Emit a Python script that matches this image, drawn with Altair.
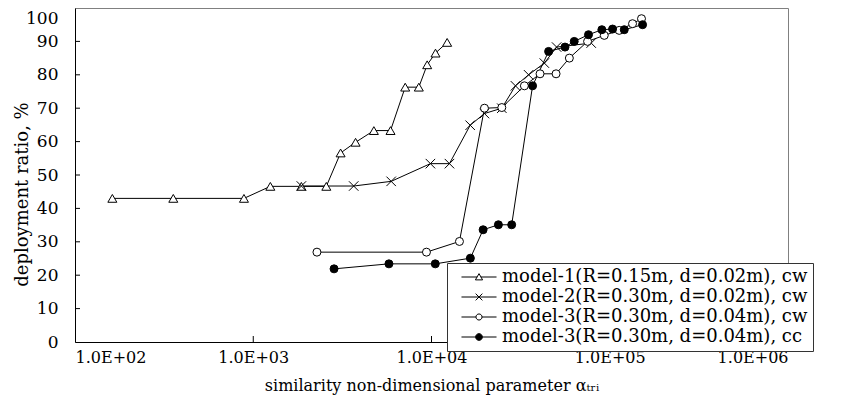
import altair as alt
import pandas as pd

series_names = [
    "model-1(R=0.15m, d=0.02m), cw",
    "model-2(R=0.30m, d=0.02m), cw",
    "model-3(R=0.30m, d=0.04m), cw",
    "model-3(R=0.30m, d=0.04m), cc",
]

m1_x = [162, 356, 887, 1247, 1862, 2570, 3090, 3750, 4750, 5890, 7120, 8490, 9460, 10530, 12240]
m1_y = [43.0, 43.0, 43.0, 46.6, 46.6, 46.6, 56.6, 59.8, 63.3, 63.3, 76.3, 76.3, 83.0, 86.5, 89.7]

m2_x = [1862, 3660, 5940, 9860, 12610, 16480, 19820, 24800, 29580, 35060, 42960, 50340, 78700]
m2_y = [46.7, 46.7, 48.1, 53.4, 53.4, 64.9, 68.4, 70.0, 76.7, 80.0, 83.5, 88.3, 89.5]

m3_x = [2277, 9370, 14350, 19820, 24800, 33200, 40640, 49990, 59340, 75100, 93150, 113000, 134200, 150700]
m3_y = [26.9, 26.9, 30.1, 70.0, 70.2, 76.7, 80.3, 80.3, 85.0, 90.0, 91.8, 93.3, 95.3, 96.8]

m4_x = [2840, 5770, 10500, 16520, 19480, 23730, 28170, 36900, 45400, 56100, 63200, 76000, 90300, 103700, 120600, 152800]
m4_y = [21.9, 23.4, 23.4, 25.1, 33.6, 35.1, 35.1, 76.7, 87.0, 88.3, 90.0, 92.0, 93.5, 93.7, 93.5, 95.0]

x_ticks = [100, 1000, 10000, 100000, 1000000]
y_ticks = [0, 10, 20, 30, 40, 50, 60, 70, 80, 90, 100]

FONT = "DejaVu Serif"
W, H = 713, 334

frames = []
for name, xs, ys in [(series_names[0], m1_x, m1_y), (series_names[1], m2_x, m2_y),
                     (series_names[2], m3_x, m3_y), (series_names[3], m4_x, m4_y)]:
    frames.append(pd.DataFrame({"series": name, "x": xs, "y": ys, "order": range(len(xs))}))
df = pd.concat(frames, ignore_index=True)

xscale = alt.Scale(type="log", domain=[100, 1000000], nice=False)
yscale = alt.Scale(domain=[0, 100], nice=False)

xaxis = alt.Axis(
    values=x_ticks, tickCount=5, ticks=False, grid=False, labelPadding=7, labelOverlap=False,
    labelFontSize=16,
    labelExpr="'1.0E+0' + format(log(datum.value)/LN10, '.0f')",
    title="similarity non-dimensional parameter αₜᵣᵢ", titlePadding=12,
    titleFontSize=16)
yaxis = alt.Axis(
    values=y_ticks, tickCount=11, ticks=False, grid=False, labelPadding=17, labelOverlap=False,
    labelFontSize=17,
    labelOffset={"condition": {"test": "datum.value == 100", "value": 10}, "value": 0},
    title="deployment ratio, %", titleAngle=270, titleX=-53, titleY=186,
    titleAlign="center", titleBaseline="middle", titleFontSize=18)


def xq():
    return alt.X("x:Q", scale=xscale, axis=xaxis)


def yq():
    return alt.Y("y:Q", scale=yscale, axis=yaxis)


lines = alt.Chart(df).mark_line(color="black", strokeWidth=1).encode(
    x=xq(), y=yq(), detail="series:N", order="order:Q")

cross_path = "M-1,-1L1,1M-1,1L1,-1"
marker_styles = [
    dict(shape="triangle-up", size=81, fill="white"),
    dict(shape=cross_path, size=90, fill="white"),
    dict(shape="circle", size=64, fill="white"),
    dict(shape="circle", size=64, fill="black"),
]
point_layers = []
for name, st in zip(series_names, marker_styles):
    point_layers.append(
        alt.Chart(df[df["series"] == name]).mark_point(
            shape=st["shape"], size=st["size"], fill=st["fill"], filled=False,
            stroke="black", strokeWidth=1, opacity=1, fillOpacity=1
        ).encode(x=xq(), y=yq())
    )

# axis tick marks (pointing inward)
xt = pd.DataFrame({"x": x_ticks[1:-1], "y": 0})
xtick_layer = alt.Chart(xt).mark_rule(color="black", strokeWidth=1).encode(
    x=xq(), y=yq(), y2=alt.value(H - 6))
yt = pd.DataFrame({"y": y_ticks[1:-1]})
ytick_layer = alt.Chart(yt).mark_rule(color="black", strokeWidth=1).encode(
    y=yq(), x=alt.value(0), x2=alt.value(5))

# legend layer (invisible marks, visible legend)
legend_paths = [
    "M-2.19,0H-0.22M0.22,0H2.19M0,-0.42L0.45,0.36L-0.45,0.36Z",
    "M-2.19,0H2.19M-0.42,-0.42L0.42,0.42M-0.42,0.42L0.42,-0.42",
    "M-2.19,0H-0.38M0.38,0H2.19M0.38,0A0.38,0.38 0 1,1 -0.38,0A0.38,0.38 0 1,1 0.38,0Z",
    "M-2.19,0H-0.42M0.42,0H2.19M0.42,0A0.42,0.42 0 1,1 -0.42,0A0.42,0.42 0 1,1 0.42,0Z",
]
leg_df = pd.DataFrame({"series": series_names, "x": [1000] * 4, "y": [50] * 4})
legend_common = dict(
    title=None, orient="none", legendX=372, legendY=255,
    labelFont=FONT, labelFontSize=18, labelColor="black", labelLimit=0,
    symbolSize=256, symbolOffset=18, labelOffset=14, rowPadding=2,
    symbolStrokeColor="black", symbolStrokeWidth=1, symbolOpacity=1,
    padding=5, fillColor="white", strokeColor="#333333",
)
legend_layer = alt.Chart(leg_df).mark_point(opacity=0, stroke="black").encode(
    x=xq(), y=yq(),
    shape=alt.Shape("series:N", scale=alt.Scale(domain=series_names, range=legend_paths),
                    legend=alt.Legend(**legend_common)),
    fill=alt.Fill("series:N", scale=alt.Scale(domain=series_names,
                                                range=["white", "white", "white", "black"]),
                  legend=alt.Legend(**legend_common)),
    stroke=alt.Stroke("series:N", scale=alt.Scale(domain=series_names,
                                                    range=["black", "black", "black", "black"]),
                      legend=alt.Legend(**legend_common)),
)

chart = alt.layer(lines, *point_layers, xtick_layer, ytick_layer, legend_layer).properties(
    width=W, height=H,
    autosize=alt.AutoSizeParams(type="none"),
    padding={"left": 67, "top": 0, "right": 49, "bottom": 69},
    background="white",
).configure_view(
    stroke="#808080", strokeWidth=1
).configure_axis(
    domainColor="black", domainWidth=1,
    labelFont=FONT, labelColor="black",
    titleFont=FONT, titleFontWeight="normal", titleColor="black",
)

chart.save("out.html", embed_options={"renderer": "svg", "actions": False})
